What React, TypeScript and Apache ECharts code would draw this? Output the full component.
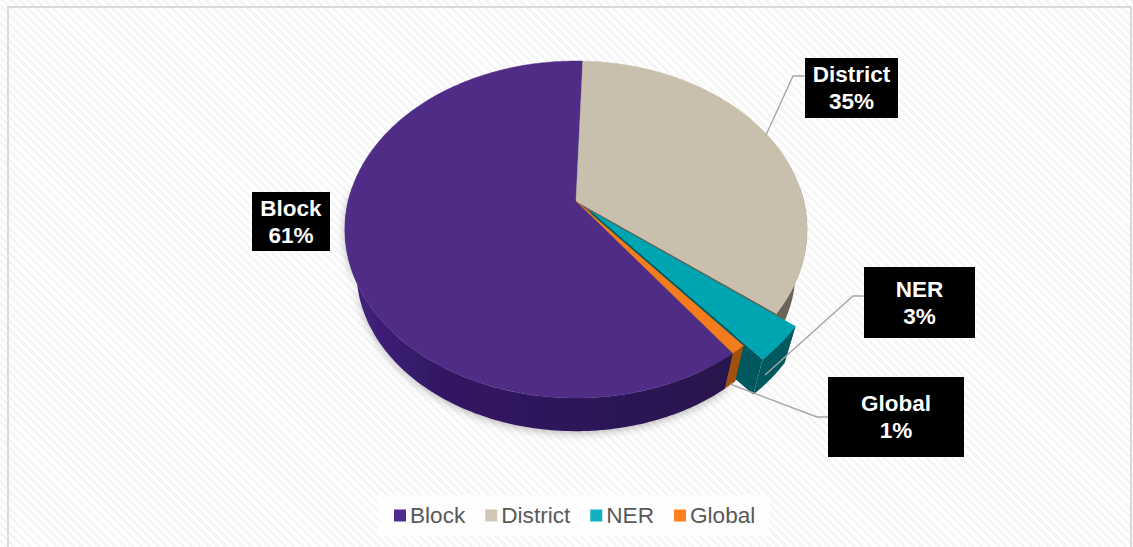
import React, { useEffect, useRef } from "react";
import * as echarts from "echarts";

const categories = ["Block", "District", "NER", "Global"];
const shares = [60.7, 35.0, 3.4, 0.9];
const percentLabels = ["61%", "35%", "3%", "1%"];
const topColors = ["#4f2c85", "#c8bfad", "#00a5b2", "#f57c1c"];
const sideColors = ["#2e1657", "#6a6456", "#00595f", "#a3500f"];
const legendColors = ["#4f2d8f", "#cfc6b8", "#0fb0c4", "#ff7f1f"];
const explode = [0, 0, 0.09, 0];
const drawOrder = [0, 1, 3, 2];

// Clockwise start of each slice, degrees from 12 o'clock: District opens the pie.
const START_DEG = 2;
const sliceOrder = [1, 2, 3, 0];
const total = shares.reduce((a, b) => a + b, 0);
const sliceStart: number[] = [];
let running = START_DEG;
sliceOrder.forEach((i) => {
  sliceStart[i] = running;
  running += (shares[i] / total) * 360;
});

// Perspective projection of the unit disc on the page.
const CX = 576, CY = 201, S = 227.8, A = 163.7, K = 0.169;
const BOTTOM_SCALE = 0.95, BOTTOM_DROP = 43;
// Part of the rim that faces the viewer.
const RIM_FROM = 85, RIM_TO = 275;

function project(u: number, v: number, bottom: boolean): number[] {
  const d = 1 + K * v;
  let X = (S * u) / d;
  let Y = (A * v) / d;
  if (bottom) {
    X *= BOTTOM_SCALE;
    Y = Y * BOTTOM_SCALE - BOTTOM_DROP;
  }
  return [CX + X, CY - Y];
}

function slicePaths(i: number) {
  const from = sliceStart[i];
  const to = from + (shares[i] / total) * 360;
  const mid = (((from + to) / 2) * Math.PI) / 180;
  const ou = explode[i] * Math.sin(mid);
  const ov = explode[i] * Math.cos(mid);
  const arc = (a: number, b: number, bottom: boolean) => {
    const pts: number[][] = [];
    const n = Math.max(4, Math.ceil(b - a));
    for (let s = 0; s <= n; s++) {
      const t = ((a + ((b - a) * s) / n) * Math.PI) / 180;
      pts.push(project(Math.sin(t) + ou, Math.cos(t) + ov, bottom));
    }
    return pts;
  };
  const topArc = arc(from, to, false);
  const botArc = arc(from, to, true);
  const rimA = Math.max(from, RIM_FROM);
  const rimB = Math.min(to, RIM_TO);
  const apexTop = project(ou, ov, false);
  const apexBot = project(ou, ov, true);
  return {
    top: [apexTop, ...topArc],
    outer:
      rimB > rimA
        ? [...arc(rimA, rimB, false), ...arc(rimA, rimB, true).reverse()]
        : [],
    cutA: [apexTop, topArc[0], botArc[0], apexBot],
    cutB: [apexTop, topArc[topArc.length - 1], botArc[botArc.length - 1], apexBot],
  };
}

function makeRender(i: number) {
  return () => {
    const p = slicePaths(i);
    const rank = drawOrder.indexOf(i) + 1;
    const poly = (points: number[][], fill: any, z2: number, extra: any = {}) => ({
      type: "polygon",
      shape: { points },
      style: { fill, ...extra },
      z2,
    });
    const rimFill =
      i === 0
        ? new echarts.graphic.LinearGradient(0, 0, 1, 0, [
            { offset: 0, color: "#43237f" },
            { offset: 0.25, color: "#321864" },
            { offset: 1, color: "#28134c" },
          ])
        : sideColors[i];
    const rimExtra =
      i === 0 ? { shadowColor: "rgba(0,0,0,0.28)", shadowBlur: 9, shadowOffsetY: 2 } : {};
    return {
      type: "group",
      children: [
        poly(p.cutA, sideColors[i], rank),
        poly(p.cutB, sideColors[i], rank),
        poly(p.outer, rimFill, 5 + rank, rimExtra),
        poly(p.top, topColors[i], 10 + rank, { stroke: topColors[i], lineWidth: 0.4 }),
      ],
    };
  };
}

const boxes = [
  { i: 0, x: 252, y: 192, w: 78, h: 59, line: null },
  { i: 1, x: 805, y: 58, w: 93, h: 60, line: [[766, 135], [793, 76], [805, 76]] },
  { i: 2, x: 864, y: 267, w: 111, h: 71, line: [[765, 375], [853, 296], [864, 296]] },
  { i: 3, x: 828, y: 377, w: 136, h: 80, line: [[730, 384], [817, 417], [828, 417]] },
];

export default function App() {
  const ref = useRef<HTMLDivElement>(null);
  useEffect(() => {
    document.body.style.margin = "0";
    const chart = echarts.init(ref.current!, undefined, { renderer: "svg" });
    const graphics: any[] = [
      {
        type: "polyline",
        shape: { points: [[8, 547], [8, 7], [1131, 7], [1131, 547]] },
        style: { stroke: "#d9d9d9", lineWidth: 2, fill: "none" },
        z: 1,
        silent: true,
      },
    ];
    boxes.forEach((b) => {
      if (b.line) {
        graphics.push({
          type: "polyline",
          shape: { points: b.line },
          style: { stroke: "#a6a6a6", lineWidth: 1.4, fill: "none" },
          z: 20,
          silent: true,
        });
      }
      graphics.push({
        type: "rect",
        shape: { x: b.x, y: b.y, width: b.w, height: b.h },
        style: { fill: "#000000" },
        z: 21,
        silent: true,
      });
      graphics.push({
        type: "text",
        x: b.x + b.w / 2,
        y: b.y + b.h / 2,
        style: {
          text: categories[b.i] + "\n" + percentLabels[b.i],
          fill: "#ffffff",
          font: 'bold 22.5px "Liberation Sans", Arial, sans-serif',
          lineHeight: 27,
          align: "center",
          verticalAlign: "middle",
        },
        z: 22,
        silent: true,
      });
    });
    chart.setOption({
      animation: false,
      backgroundColor: "transparent",
      legend: {
        left: 378,
        top: 495,
        padding: [9, 14, 9, 16],
        data: categories,
        icon: "rect",
        itemWidth: 12,
        itemHeight: 12,
        itemGap: 20,
        selectedMode: false,
        backgroundColor: "rgba(255,255,255,0.75)",
        textStyle: {
          color: "#595959",
          fontSize: 22.6,
          fontFamily: '"Liberation Sans", Arial, sans-serif',
          padding: [0, 0, 0, -1],
        },
      },
      series: categories.map((name, i) => ({
        type: "custom",
        name,
        coordinateSystem: "none",
        silent: true,
        z: 2,
        clip: false,
        itemStyle: { color: legendColors[i] },
        data: [{ name, value: shares[i] }],
        renderItem: makeRender(i),
      })),
      graphic: graphics,
    });
    return () => chart.dispose();
  }, []);
  return (
    <div
      style={{
        position: "absolute",
        left: 0,
        top: 0,
        width: 1133,
        height: 547,
        background:
          "repeating-linear-gradient(45deg, #ffffff 0px, #ffffff 3px, #f6f6f6 3px, #f6f6f6 6px)",
      }}
    >
      <div ref={ref} style={{ width: 1133, height: 547 }} />
    </div>
  );
}
